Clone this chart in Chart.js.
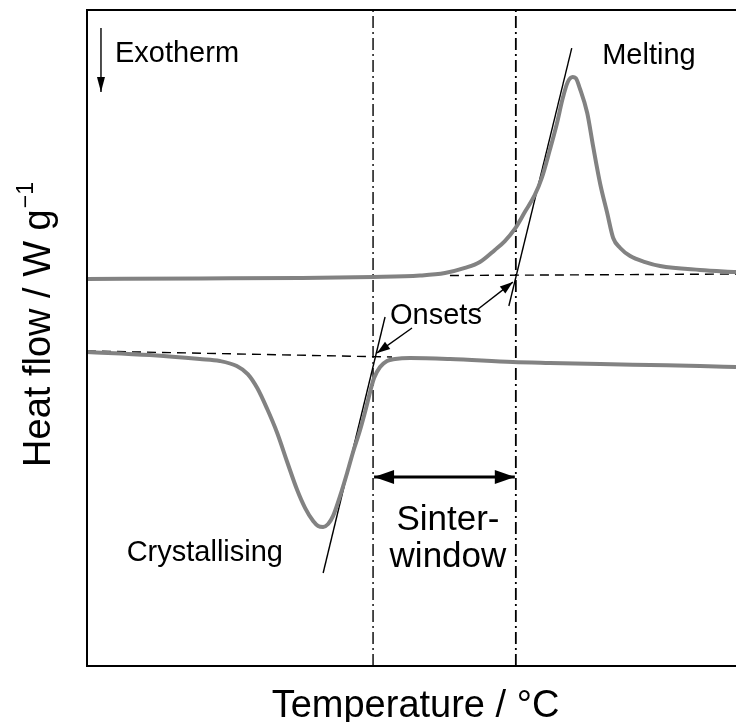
<!DOCTYPE html>
<html>
<head>
<meta charset="utf-8">
<script src="https://cdn.jsdelivr.net/npm/chart.js@4/dist/chart.umd.min.js"></script>
<style>
  html, body { margin: 0; padding: 0; background: #fff; }
  canvas { display: block; }
</style>
</head>
<body>
<canvas id="dsc" width="736" height="722"></canvas>
<script>
// heating run (melting peak), temperature in °C and heat flow in W/g
const heatingT = [100.0, 122.6, 142.7, 157.3, 166.7, 171.7, 175.7, 178.7, 181.7, 183.7, 185.7, 187.7,
  189.7, 191.1, 192.7, 194.1, 195.3, 196.3, 197.3, 197.9, 198.7, 200.2, 201.4, 202.8, 204.2, 205.4,
  206.8, 208.8, 211.8, 214.8, 222.8, 230.0];
const heatingFlow = [-0.640, -0.637, -0.634, -0.628, -0.619, -0.604, -0.573, -0.537, -0.463, -0.409,
  -0.335, -0.232, -0.128, -0.024, 0.146, 0.305, 0.463, 0.561, 0.591, 0.585, 0.524, 0.372, 0.165,
  -0.061, -0.238, -0.390, -0.451, -0.500, -0.537, -0.561, -0.585, -0.598];

// cooling run (crystallisation peak)
const coolingT = [100.0, 112.6, 122.6, 126.6, 130.0, 132.2, 134.1, 136.1, 138.1, 140.1, 142.1, 143.7,
  145.3, 146.3, 147.3, 148.3, 149.3, 150.7, 152.1, 153.3, 154.7, 155.9, 156.7, 157.5, 158.7, 160.1,
  161.7, 164.7, 172.7, 185.3, 192.7, 202.8, 212.8, 222.8, 230.0];
const coolingFlow = [-1.085, -1.104, -1.128, -1.140, -1.171, -1.220, -1.305, -1.433, -1.579, -1.756,
  -1.927, -2.037, -2.116, -2.146, -2.152, -2.134, -2.085, -1.963, -1.823, -1.695, -1.561, -1.427,
  -1.329, -1.244, -1.177, -1.140, -1.128, -1.122, -1.128, -1.146, -1.152, -1.159, -1.165, -1.171, -1.177];

// onset temperatures bounding the sinter window
const onsetT = [157.3, 185.9];

// extrapolated baselines and inflection tangents: [x0, y0, x1, y1]
const meltBaseline = [172.7, -0.619, 230.0, -0.610];
const crystBaseline = [100.0, -1.079, 161.1, -1.116];
const meltTangent = [197.1, 0.768, 184.5, -0.805];
const crystTangent = [159.7, -0.872, 147.3, -2.433];

// arrows: [fromX, fromY, toX, toY]
const onsetArrows = [[165.1, -0.939, 158.1, -1.091], [178.1, -0.829, 185.3, -0.659]];
const exothermArrow = [102.8, 0.890, 102.8, 0.500];
const windowLevel = -1.848;

// annotation texts: [text, x, y, align]
const notes = [
  ['Exotherm', 105.6, 0.732, 'left'],
  ['Melting', 203.2, 0.720, 'left'],
  ['Onsets', 169.9, -0.866, 'center'],
  ['Crystallising', 123.6, -2.311, 'center']
];
const windowText = [['Sinter-', 172.3, -2.110], ['window', 172.3, -2.335]];

const xRange = [100, 230];
const yRange = [-3, 1];

const FONT = '"Liberation Sans", Arial, sans-serif';

const pts = (xs, ys) => xs.map((v, i) => ({ x: v, y: ys[i] }));
const seg = (s) => [{ x: s[0], y: s[1] }, { x: s[2], y: s[3] }];
const vline = (t) => [{ x: t, y: yRange[0] }, { x: t, y: yRange[1] }];

function curve(data) {
  return {
    data, showLine: true, pointRadius: 0, borderColor: '#828282', borderWidth: 4,
    cubicInterpolationMode: 'monotone', order: 1
  };
}
function guide(data, dash, width) {
  return {
    data, showLine: true, pointRadius: 0, borderColor: '#000', borderWidth: width || 1.4,
    borderDash: dash || [], order: 2
  };
}

function arrow(ctx, x1, y1, x2, y2, len, half, both) {
  const ang = Math.atan2(y2 - y1, x2 - x1);
  ctx.beginPath();
  ctx.moveTo(x1, y1);
  ctx.lineTo(x2, y2);
  ctx.stroke();
  const head = (hx, hy, a) => {
    ctx.beginPath();
    ctx.moveTo(hx, hy);
    ctx.lineTo(hx - len * Math.cos(a) + half * Math.sin(a), hy - len * Math.sin(a) - half * Math.cos(a));
    ctx.lineTo(hx - len * Math.cos(a) - half * Math.sin(a), hy - len * Math.sin(a) + half * Math.cos(a));
    ctx.closePath();
    ctx.fill();
  };
  head(x2, y2, ang);
  if (both) head(x1, y1, ang + Math.PI);
}

const overlay = {
  id: 'dscOverlay',
  afterDatasetsDraw(chart) {
    const { ctx, chartArea: a, scales: { x, y } } = chart;
    const px = (v) => x.getPixelForValue(v);
    const py = (v) => y.getPixelForValue(v);
    ctx.save();
    ctx.strokeStyle = '#000';
    ctx.fillStyle = '#000';

    // frame: left, top and bottom only
    ctx.lineWidth = 2;
    ctx.beginPath();
    ctx.moveTo(a.right + 2, a.top);
    ctx.lineTo(a.left, a.top);
    ctx.lineTo(a.left, a.bottom);
    ctx.lineTo(a.right + 2, a.bottom);
    ctx.stroke();

    ctx.lineWidth = 1.4;
    onsetArrows.forEach((s) => arrow(ctx, px(s[0]), py(s[1]), px(s[2]), py(s[3]), 13, 4.5));
    arrow(ctx, px(exothermArrow[0]), py(exothermArrow[1]), px(exothermArrow[2]), py(exothermArrow[3]), 15, 4);

    ctx.lineWidth = 3;
    arrow(ctx, px(onsetT[0]) + 1, py(windowLevel), px(onsetT[1]) - 1, py(windowLevel), 20, 7, true);

    ctx.textBaseline = 'middle';
    ctx.font = '29px ' + FONT;
    notes.forEach(([t, tx, ty, al]) => {
      ctx.textAlign = al;
      ctx.fillText(t, px(tx), py(ty));
    });
    ctx.font = '35px ' + FONT;
    ctx.textAlign = 'center';
    windowText.forEach(([t, tx, ty]) => ctx.fillText(t, px(tx), py(ty)));

    // axis titles
    ctx.textBaseline = 'alphabetic';
    ctx.font = '38px ' + FONT;
    ctx.fillText('Temperature / °C', (a.left + a.right) / 2 + 4, 717);

    ctx.translate(50, 325);
    ctx.rotate(-Math.PI / 2);
    const main = 'Heat flow / W g';
    const sup = '\u22121';
    ctx.font = '38px ' + FONT;
    const wMain = ctx.measureText(main).width;
    ctx.font = '23px ' + FONT;
    const wSup = ctx.measureText(sup).width;
    const start = -(wMain + wSup) / 2;
    ctx.textAlign = 'left';
    ctx.font = '38px ' + FONT;
    ctx.fillText(main, start, 0);
    ctx.font = '23px ' + FONT;
    ctx.fillText(sup, start + wMain + 1, -17);
    ctx.restore();
  }
};

new Chart(document.getElementById('dsc'), {
  type: 'scatter',
  data: {
    datasets: [
      curve(pts(heatingT, heatingFlow)),
      curve(pts(coolingT, coolingFlow)),
      guide(seg(meltBaseline), [9, 6]),
      guide(seg(crystBaseline), [9, 6]),
      guide(seg(meltTangent)),
      guide(seg(crystTangent)),
      guide(vline(onsetT[0]), [12, 4, 2, 4]),
      guide(vline(onsetT[1]), [12, 4, 2, 4], 1.8)
    ]
  },
  options: {
    responsive: false,
    animation: false,
    layout: { padding: { left: 87, top: 10, right: 0, bottom: 56 } },
    scales: {
      x: { type: 'linear', display: false, min: xRange[0], max: xRange[1] },
      y: { type: 'linear', display: false, min: yRange[0], max: yRange[1] }
    },
    plugins: { legend: { display: false }, tooltip: { enabled: false } }
  },
  plugins: [overlay]
});
</script>
</body>
</html>
